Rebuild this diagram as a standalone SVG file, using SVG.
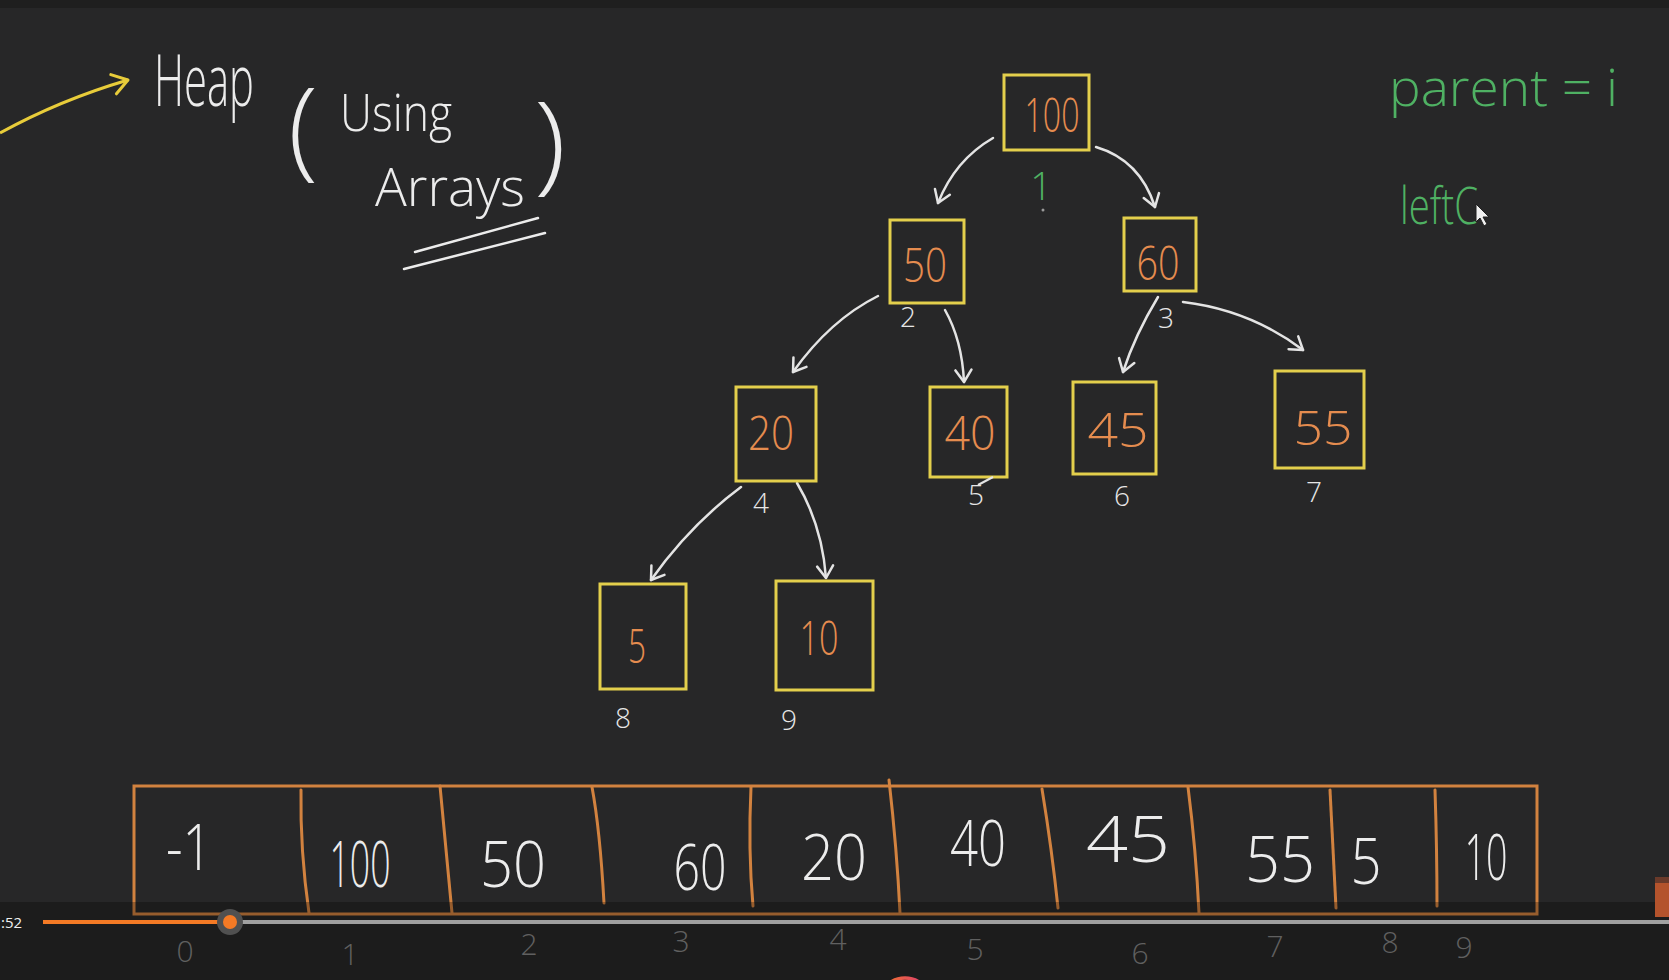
<svg xmlns="http://www.w3.org/2000/svg" width="1669" height="980" viewBox="0 0 1669 980">
<defs>
<style>
.hw{font-family:"Open Sans","Liberation Sans",sans-serif;font-weight:300}
.box{fill:none;stroke:#e3cf4c;stroke-width:3}
.val{fill:#e58c4f;font-size:48px;text-anchor:middle}
.idx{fill:#e6e6e6;font-size:28px;text-anchor:middle}
.edge{fill:none;stroke:#e4e4e4;stroke-width:2.5;stroke-linecap:round}
.arr{fill:#ececec;font-size:64px;text-anchor:middle}
.cell{stroke:#d2823f;stroke-width:3;fill:none;stroke-linecap:round}
.low{fill:#606060;font-size:30px;text-anchor:middle}
.green{fill:#4fb163}
</style>
<marker id="head" viewBox="-14 -10 16 20" markerWidth="16" markerHeight="20" refX="0" refY="0" orient="auto" markerUnits="userSpaceOnUse">
<path d="M -12 -8 L 0 0 L -12 8" fill="none" stroke="#e4e4e4" stroke-width="2.5" stroke-linecap="round" stroke-linejoin="round"/>
</marker>
<marker id="yhead" viewBox="-18 -12 20 24" markerWidth="20" markerHeight="24" refX="0" refY="0" orient="auto" markerUnits="userSpaceOnUse">
<path d="M -15 -10 L 0 0 L -15 10" fill="none" stroke="#e8cc3a" stroke-width="3" stroke-linecap="round" stroke-linejoin="round"/>
</marker>
<linearGradient id="ring" x1="0" y1="0" x2="1" y2="0">
<stop offset="0" stop-color="#f47a25"/><stop offset="1" stop-color="#d9367a"/>
</linearGradient>
</defs>
<rect width="1669" height="980" fill="#272728"/>
<rect width="1669" height="8" fill="#1f1f1f"/>

<g id="title">
<path d="M 0 133 Q 60 100 128 80" fill="none" stroke="#e8cc3a" stroke-width="3" marker-end="url(#yhead)"/>
<text class="hw" transform="translate(154,106) scale(0.58,1)" x="0" y="0" font-size="72" fill="#ececec">Heap</text>
<text class="hw" x="288" y="166" font-size="108" fill="#ececec" textLength="30" lengthAdjust="spacingAndGlyphs">(</text>
<text class="hw" x="340" y="131" font-size="52" fill="#ececec" textLength="112" lengthAdjust="spacingAndGlyphs">Using</text>
<text class="hw" x="375" y="206" font-size="54" fill="#ececec" textLength="150" lengthAdjust="spacingAndGlyphs">Arrays</text>
<text class="hw" x="534" y="180" font-size="108" fill="#ececec" textLength="32" lengthAdjust="spacingAndGlyphs">)</text>
<path d="M 415 252 L 538 218 M 404 269 L 545 233" stroke="#ececec" stroke-width="2.5" fill="none" stroke-linecap="round"/>
</g>

<g id="notes">
<text class="hw green" x="1389" y="106" font-size="52" textLength="229" lengthAdjust="spacingAndGlyphs">parent = i</text>
<text class="hw green" x="1400" y="224" font-size="52" textLength="78" lengthAdjust="spacingAndGlyphs">leftC</text>
<path d="M 1476 204 L 1476 222 L 1480 218 L 1484 226 L 1487 224 L 1483 217 L 1489 217 Z" fill="#f0f0f0" stroke="#202020" stroke-width="1"/>
</g>

<g id="connectors">
<path class="edge" d="M 993 138 Q 955 160 938 203" marker-end="url(#head)"/>
<path class="edge" d="M 1096 147 Q 1140 160 1155 207" marker-end="url(#head)"/>
<path class="edge" d="M 878 296 Q 830 320 793 372" marker-end="url(#head)"/>
<path class="edge" d="M 945 310 Q 962 340 964 382" marker-end="url(#head)"/>
<path class="edge" d="M 1158 297 Q 1135 335 1123 372" marker-end="url(#head)"/>
<path class="edge" d="M 1183 302 Q 1250 310 1303 350" marker-end="url(#head)"/>
<path class="edge" d="M 741 487 Q 690 525 651 580" marker-end="url(#head)"/>
<path class="edge" d="M 797 483 Q 822 525 826 578" marker-end="url(#head)"/>
</g>

<g id="node-100">
<rect class="box" x="1004" y="75" width="85" height="75"/>
<text class="hw val" x="1052" y="132" textLength="55" lengthAdjust="spacingAndGlyphs">100</text>
<text class="hw green" x="1041" y="200" font-size="38" font-weight="400" text-anchor="middle">1</text>
<circle cx="1043" cy="210" r="1.5" fill="#9a9a9a"/>
</g>
<g id="node-50">
<rect class="box" x="890" y="220" width="74" height="83"/>
<text class="hw val" x="925" y="282" textLength="44" lengthAdjust="spacingAndGlyphs">50</text>
<text class="hw idx" x="908" y="327">2</text>
</g>
<g id="node-60">
<rect class="box" x="1124" y="218" width="72" height="73"/>
<text class="hw val" x="1158" y="280" textLength="43" lengthAdjust="spacingAndGlyphs">60</text>
<text class="hw idx" x="1166" y="328" font-size="32">3</text>
</g>
<g id="node-20">
<rect class="box" x="736" y="387" width="80" height="94"/>
<text class="hw val" x="771" y="450" textLength="46" lengthAdjust="spacingAndGlyphs">20</text>
<text class="hw idx" x="761" y="513">4</text>
</g>
<g id="node-40">
<rect class="box" x="930" y="387" width="77" height="90"/>
<text class="hw val" x="970" y="450" textLength="51" lengthAdjust="spacingAndGlyphs">40</text>
<path d="M 978 485 L 993 477" stroke="#e4e4e4" stroke-width="2" fill="none"/>
<text class="hw idx" x="976" y="505" font-size="16">5</text>
</g>
<g id="node-45">
<rect class="box" x="1073" y="382" width="83" height="92"/>
<text class="hw val" x="1118" y="447" textLength="61" lengthAdjust="spacingAndGlyphs">45</text>
<text class="hw idx" x="1122" y="506">6</text>
</g>
<g id="node-55">
<rect class="box" x="1275" y="371" width="89" height="97"/>
<text class="hw val" x="1323" y="445" textLength="59" lengthAdjust="spacingAndGlyphs">55</text>
<text class="hw idx" x="1314" y="502">7</text>
</g>
<g id="node-5">
<rect class="box" x="600" y="584" width="86" height="105"/>
<text class="hw val" x="637" y="663" font-size="56" textLength="18" lengthAdjust="spacingAndGlyphs">5</text>
<text class="hw idx" x="623" y="728" font-size="40">8</text>
</g>
<g id="node-10">
<rect class="box" x="776" y="581" width="97" height="109"/>
<text class="hw val" x="819" y="655" font-size="42" textLength="39" lengthAdjust="spacingAndGlyphs">10</text>
<text class="hw idx" x="789" y="730" font-size="40">9</text>
</g>

<g id="array">
<rect x="134" y="786" width="1403" height="128" fill="none" stroke="#d2823f" stroke-width="3"/>
<path class="cell" d="M 301 790 Q 300 850 309 913"/>
<path class="cell" d="M 440 786 Q 446 850 452 913"/>
<path class="cell" d="M 592 787 Q 600 830 604 903"/>
<path class="cell" d="M 751 787 Q 748 850 753 906"/>
<path class="cell" d="M 889 780 Q 897 850 900 913"/>
<path class="cell" d="M 1042 789 Q 1052 850 1058 908"/>
<path class="cell" d="M 1188 787 Q 1196 850 1199 913"/>
<path class="cell" d="M 1330 790 Q 1333 850 1336 908"/>
<path class="cell" d="M 1435 790 Q 1437 850 1437 906"/>
<text class="hw arr" x="189" y="870" textLength="46" lengthAdjust="spacingAndGlyphs">-1</text>
<text class="hw arr" x="360" y="887" textLength="61" lengthAdjust="spacingAndGlyphs">100</text>
<text class="hw arr" x="513" y="887" textLength="66" lengthAdjust="spacingAndGlyphs">50</text>
<text class="hw arr" x="700" y="890" textLength="53" lengthAdjust="spacingAndGlyphs">60</text>
<text class="hw arr" x="834" y="880" textLength="66" lengthAdjust="spacingAndGlyphs">20</text>
<text class="hw arr" x="978" y="866" textLength="56" lengthAdjust="spacingAndGlyphs">40</text>
<text class="hw arr" x="1128" y="862" textLength="84" lengthAdjust="spacingAndGlyphs">45</text>
<text class="hw arr" x="1280" y="882" textLength="70" lengthAdjust="spacingAndGlyphs">55</text>
<text class="hw arr" x="1366" y="884" textLength="31" lengthAdjust="spacingAndGlyphs">5</text>
<text class="hw arr" x="1486" y="880" textLength="43" lengthAdjust="spacingAndGlyphs">10</text>
</g>

<g id="player">
<rect x="0" y="902" width="1669" height="78" fill="#000" fill-opacity="0.28"/>
<rect x="1655" y="877" width="14" height="40" fill="#b4532c"/>
<rect x="1655" y="877" width="14" height="6" fill="#6a3a2a"/>
<rect x="230" y="920" width="1439" height="4" fill="#a0a0a0"/>
<rect x="43" y="920" width="187" height="4" fill="#f47a25"/>
<circle cx="230" cy="922" r="13" fill="#505050"/>
<circle cx="230" cy="922" r="7" fill="#f47a25"/>
<text x="1" y="928" font-family="'Open Sans','Liberation Sans',sans-serif" font-size="15" fill="#f0f0f0">:52</text>
<circle cx="905" cy="1004" r="26" fill="#262626" stroke="url(#ring)" stroke-width="3.5"/>
</g>

<g id="indices">
<text class="hw low" x="185" y="962">0</text>
<text class="hw low" x="350" y="965">1</text>
<text class="hw low" x="529" y="955">2</text>
<text class="hw low" x="681" y="952">3</text>
<text class="hw low" x="838" y="950">4</text>
<text class="hw low" x="975" y="960" font-size="36">5</text>
<text class="hw low" x="1140" y="964" font-size="36">6</text>
<text class="hw low" x="1275" y="957">7</text>
<text class="hw low" x="1390" y="953">8</text>
<text class="hw low" x="1464" y="958" font-size="34">9</text>
</g>
</svg>
